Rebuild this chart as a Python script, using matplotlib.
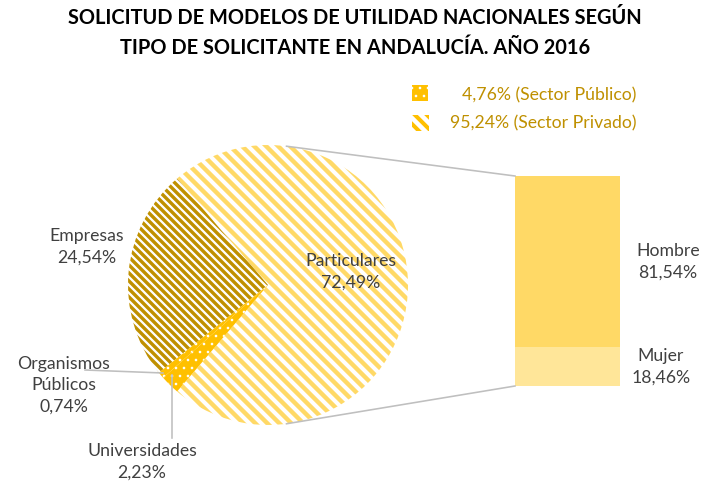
import numpy as np
import matplotlib
matplotlib.use("Agg")
import matplotlib.pyplot as plt
from matplotlib.patches import Rectangle

# --- Data
pie_labels = ["Particulares", "Empresas", "Organismos\nPúblicos", "Universidades"]
pie_values = [72.49, 24.54, 0.74, 2.23]
bar_labels = ["Hombre", "Mujer"]
bar_values = [81.54, 18.46]
legend_labels = ["4,76% (Sector Público)", "95,24% (Sector Privado)"]
title = "SOLICITUD DE MODELOS DE UTILIDAD NACIONALES SEGÚN\nTIPO DE SOLICITANTE EN ANDALUCÍA. AÑO 2016"

W, H = 709, 484
DPI = 144
plt.rcParams['font.family'] = ['Lato', 'DejaVu Sans']

def Y(p):
    # pixel row (from top) -> data y
    return H - p

def fmt(v):
    return f"{v:.2f}".replace(".", ",") + "%"

fig = plt.figure(figsize=(W / DPI, H / DPI), dpi=DPI)
ax = fig.add_axes([0, 0, 1, 1])

cx, cy, r = 268, Y(285), 140
start = -pie_values[0] * 3.6 / 2

pie_face = ["white", "white", "#FFC000", "#FFC000"]
pie_edge = ["#FFD966", "#BF9000", "white", "white"]
pie_hatch = ["\\\\\\\\", "\\\\\\\\\\\\", "...", "..."]
hatch_lw = [2.2, 1.7, 0.5, 0.5]

wedges, _ = ax.pie(pie_values, center=(cx, cy), radius=r, startangle=start,
                   counterclock=True, colors=pie_face,
                   wedgeprops=dict(linewidth=0))
for w, ec, ht, lw in zip(wedges, pie_edge, pie_hatch, hatch_lw):
    with plt.rc_context({'hatch.linewidth': lw}):
        w.set_edgecolor(ec)
        w.set_hatch(ht)
        if hasattr(w, "set_hatch_linewidth"):
            w.set_hatch_linewidth(lw)

# --- Bar (breakdown of Particulares)
bar_x, bar_w = 567.5, 105
bar_bottom, bar_h = Y(386), 210
heights = [v / 100 * bar_h for v in bar_values]
ax.bar(bar_x, heights[1], width=bar_w, bottom=bar_bottom, color="#FFE699", linewidth=0)
ax.bar(bar_x, heights[0], width=bar_w, bottom=bar_bottom + heights[1], color="#FFD966", linewidth=0)

# connector lines
a = np.radians(82.4)
ax.plot([cx + r * np.cos(a), bar_x - bar_w / 2], [cy + r * np.sin(a), bar_bottom + bar_h],
        color="#BFBFBF", lw=0.8)
ax.plot([cx + r * np.cos(-a), bar_x - bar_w / 2], [cy + r * np.sin(-a), bar_bottom],
        color="#BFBFBF", lw=0.8)

# --- Labels
lab_kw = dict(ha="center", va="center", fontsize=8.8, color="#404040", linespacing=1.4)
ax.text(351, Y(272), f"{pie_labels[0]}\n{fmt(pie_values[0])}", **lab_kw)
ax.text(87, Y(247), f"{pie_labels[1]}\n{fmt(pie_values[1])}", **lab_kw)
ax.text(64, Y(385), f"{pie_labels[2]}\n{fmt(pie_values[2])}", **lab_kw)
ax.text(142, Y(462), f"{pie_labels[3]}\n{fmt(pie_values[3])}", **lab_kw)
ax.text(668, Y(262), f"{bar_labels[0]}\n{fmt(bar_values[0])}", **lab_kw)
ax.text(661, Y(367), f"{bar_labels[1]}\n{fmt(bar_values[1])}", **lab_kw)

# leader lines
ax.plot([85, 163], [Y(370), Y(373)], color="#BFBFBF", lw=0.8)
ax.plot([172, 172], [Y(375), Y(438)], color="#BFBFBF", lw=0.8)

# --- Legend
with plt.rc_context({'hatch.linewidth': 0.5}):
    p1 = Rectangle((412, Y(101)), 16, 16, facecolor="#FFC000", edgecolor="white",
                   hatch="...", linewidth=0)
with plt.rc_context({'hatch.linewidth': 2.0}):
    p2 = Rectangle((412, Y(131)), 17, 16, facecolor="white", edgecolor="#FFC000",
                   hatch="\\\\\\\\", linewidth=0)
for p in (p1, p2):
    ax.add_patch(p)
ax.text(636, Y(95), legend_labels[0], ha="right", va="center", fontsize=8.8, color="#BF9000")
ax.text(636, Y(123), legend_labels[1], ha="right", va="center", fontsize=8.8, color="#BF9000")

# --- Title
ax.text(355, Y(33), title, ha="center", va="center", fontsize=10.0, fontweight="bold",
        color="black", linespacing=1.6)

ax.set_xlim(0, W)
ax.set_ylim(0, H)
ax.set_aspect("equal")
ax.axis("off")
fig.savefig("out.png", dpi=DPI)
